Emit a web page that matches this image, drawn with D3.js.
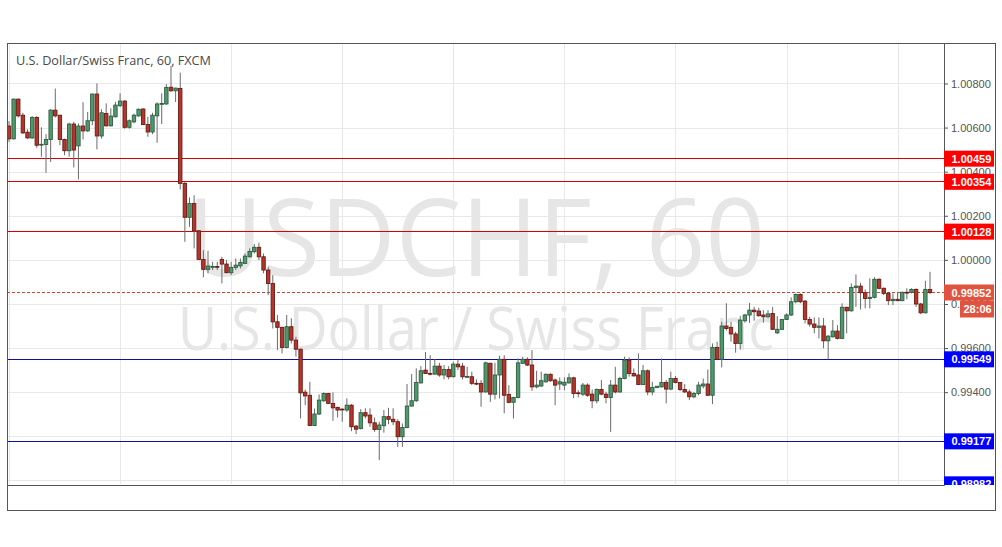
<!DOCTYPE html>
<html><head><meta charset="utf-8">
<script src="https://cdn.jsdelivr.net/npm/d3@7"></script>
<style>body{margin:0;background:#fff;} svg{display:block;}</style>
</head><body>
<svg id="chart" width="1002" height="547"></svg>
<script>
const title = "U.S. Dollar/Swiss Franc, 60, FXCM";
const watermark = ["USDCHF, 60", "U.S. Dollar / Swiss Franc"];
const dayLabels = ["15","16","19","20","21","22","23","26","27"];
const dayIndex = [0,24,48,72,96,120,144,168,192];
const gridTicks = [0.990,0.992,0.994,0.996,0.998,1.000,1.002,1.004,1.006,1.008];
const yTickLabels = [0.994,0.996,0.998,1.000,1.002,1.004,1.006,1.008];
const resistance = [1.00459,1.00354,1.00128];
const support = [0.99549,0.99177,0.98982];
const lastPrice = 0.99852;
const countdown = "28:06";
// hourly candles: [open, high, low, close]
const ohlc = [
[1.00607,1.00629,1.00535,1.00549],[1.00549,1.00732,1.00546,1.00729],[1.00729,1.00731,1.00646,1.00653],[1.00656,1.00667,1.00571,1.00576],
[1.00579,1.00592,1.00549,1.00553],[1.00553,1.00652,1.00549,1.00646],[1.00646,1.00652,1.00508,1.00520],[1.00522,1.00601,1.00468,1.00524],
[1.00523,1.00570,1.00395,1.00546],[1.00546,1.00683,1.00444,1.00679],[1.00679,1.00777,1.00646,1.00653],[1.00656,1.00658,1.00520,1.00546],
[1.00546,1.00550,1.00475,1.00495],[1.00495,1.00622,1.00468,1.00616],[1.00616,1.00626,1.00419,1.00498],[1.00517,1.00619,1.00365,1.00607],
[1.00607,1.00715,1.00546,1.00585],[1.00585,1.00671,1.00580,1.00631],[1.00631,1.00755,1.00611,1.00752],[1.00752,1.00800,1.00501,1.00562],
[1.00562,1.00683,1.00550,1.00667],[1.00664,1.00710,1.00604,1.00608],[1.00608,1.00687,1.00604,1.00652],[1.00649,1.00717,1.00646,1.00702],
[1.00699,1.00755,1.00694,1.00720],[1.00720,1.00725,1.00595,1.00601],[1.00601,1.00637,1.00595,1.00631],[1.00626,1.00664,1.00619,1.00656],
[1.00653,1.00687,1.00649,1.00683],[1.00684,1.00687,1.00611,1.00614],[1.00614,1.00649,1.00558,1.00580],[1.00580,1.00667,1.00570,1.00656],
[1.00653,1.00715,1.00531,1.00707],[1.00707,1.00755,1.00616,1.00709],[1.00707,1.00797,1.00704,1.00782],[1.00783,1.00879,1.00761,1.00767],
[1.00767,1.00781,1.00716,1.00779],[1.00777,1.00849,1.00320,1.00347],[1.00347,1.00354,1.00082,1.00193],[1.00193,1.00283,1.00150,1.00256],
[1.00256,1.00293,1.00052,1.00132],[1.00132,1.00135,0.99999,1.00002],[1.00002,1.00044,0.99921,0.99957],[0.99957,1.00041,0.99939,0.99972],
[0.99969,0.99991,0.99954,0.99970],[0.99970,0.99991,0.99954,0.99969],[1.00002,1.00014,0.99893,0.99981],[0.99981,0.99999,0.99939,0.99942],
[0.99942,0.99991,0.99931,0.99966],[0.99966,1.00006,0.99954,0.99976],[0.99973,1.00006,0.99961,0.99988],[0.99984,1.00029,0.99981,1.00017],
[1.00014,1.00052,1.00011,1.00038],[1.00037,1.00072,1.00029,1.00057],[1.00057,1.00078,0.99999,1.00014],[1.00014,1.00029,0.99939,0.99954],
[0.99954,0.99969,0.99840,0.99893],[0.99893,0.99931,0.99689,0.99719],[0.99719,0.99750,0.99591,0.99694],[0.99694,0.99697,0.99576,0.99603],
[0.99603,0.99750,0.99599,0.99697],[0.99697,0.99735,0.99621,0.99636],[0.99636,0.99651,0.99561,0.99595],[0.99595,0.99597,0.99281,0.99397],
[0.99400,0.99412,0.99341,0.99383],[0.99386,0.99447,0.99246,0.99249],[0.99249,0.99326,0.99246,0.99301],[0.99301,0.99390,0.99296,0.99364],
[0.99361,0.99399,0.99356,0.99394],[0.99394,0.99397,0.99346,0.99349],[0.99349,0.99399,0.99270,0.99329],[0.99331,0.99334,0.99285,0.99319],
[0.99323,0.99327,0.99266,0.99322],[0.99319,0.99372,0.99311,0.99341],[0.99341,0.99346,0.99223,0.99243],[0.99246,0.99251,0.99210,0.99232],
[0.99235,0.99323,0.99231,0.99307],[0.99307,0.99327,0.99281,0.99292],[0.99296,0.99327,0.99243,0.99261],[0.99261,0.99285,0.99220,0.99231],
[0.99231,0.99266,0.99092,0.99251],[0.99248,0.99319,0.99216,0.99289],[0.99289,0.99329,0.99255,0.99277],[0.99277,0.99327,0.99251,0.99266],
[0.99266,0.99277,0.99152,0.99198],[0.99198,0.99258,0.99152,0.99240],[0.99240,0.99437,0.99236,0.99337],[0.99337,0.99482,0.99334,0.99361],
[0.99361,0.99508,0.99356,0.99444],[0.99442,0.99518,0.99439,0.99497],[0.99500,0.99582,0.99482,0.99485],[0.99485,0.99568,0.99476,0.99484],
[0.99482,0.99550,0.99478,0.99518],[0.99518,0.99533,0.99470,0.99478],[0.99478,0.99523,0.99458,0.99503],[0.99503,0.99518,0.99458,0.99470],
[0.99470,0.99538,0.99467,0.99527],[0.99527,0.99548,0.99500,0.99515],[0.99518,0.99533,0.99458,0.99470],[0.99470,0.99515,0.99467,0.99471],
[0.99470,0.99493,0.99432,0.99440],[0.99440,0.99458,0.99432,0.99439],[0.99440,0.99455,0.99334,0.99401],[0.99401,0.99538,0.99398,0.99533],
[0.99531,0.99533,0.99356,0.99391],[0.99391,0.99533,0.99367,0.99478],[0.99478,0.99565,0.99372,0.99549],[0.99549,0.99568,0.99304,0.99386],
[0.99390,0.99432,0.99349,0.99354],[0.99354,0.99379,0.99281,0.99376],[0.99376,0.99553,0.99372,0.99533],[0.99531,0.99561,0.99527,0.99549],
[0.99549,0.99558,0.99518,0.99523],[0.99523,0.99591,0.99406,0.99424],[0.99424,0.99497,0.99417,0.99432],[0.99428,0.99493,0.99424,0.99452],
[0.99447,0.99485,0.99443,0.99481],[0.99481,0.99485,0.99447,0.99452],[0.99455,0.99462,0.99341,0.99432],[0.99437,0.99467,0.99409,0.99447],
[0.99432,0.99467,0.99409,0.99445],[0.99442,0.99485,0.99439,0.99465],[0.99465,0.99470,0.99372,0.99394],[0.99397,0.99409,0.99376,0.99396],
[0.99391,0.99442,0.99382,0.99432],[0.99432,0.99440,0.99379,0.99386],[0.99391,0.99412,0.99327,0.99361],[0.99361,0.99417,0.99349,0.99412],
[0.99412,0.99455,0.99386,0.99391],[0.99391,0.99402,0.99349,0.99376],[0.99376,0.99455,0.99220,0.99432],[0.99432,0.99515,0.99394,0.99401],
[0.99401,0.99470,0.99398,0.99462],[0.99462,0.99561,0.99458,0.99545],[0.99545,0.99558,0.99470,0.99485],[0.99485,0.99508,0.99470,0.99474],
[0.99478,0.99576,0.99432,0.99435],[0.99435,0.99523,0.99432,0.99497],[0.99497,0.99503,0.99386,0.99401],[0.99401,0.99447,0.99386,0.99421],
[0.99421,0.99427,0.99418,0.99427],[0.99424,0.99553,0.99421,0.99444],[0.99444,0.99455,0.99349,0.99414],[0.99414,0.99493,0.99409,0.99462],
[0.99462,0.99473,0.99440,0.99444],[0.99444,0.99447,0.99405,0.99412],[0.99412,0.99437,0.99397,0.99401],[0.99401,0.99412,0.99364,0.99379],
[0.99379,0.99401,0.99372,0.99394],[0.99394,0.99447,0.99386,0.99432],[0.99428,0.99462,0.99417,0.99437],[0.99437,0.99503,0.99382,0.99386],
[0.99386,0.99621,0.99346,0.99603],[0.99603,0.99629,0.99545,0.99549],[0.99549,0.99719,0.99512,0.99700],[0.99700,0.99803,0.99679,0.99689],
[0.99694,0.99719,0.99629,0.99664],[0.99664,0.99674,0.99579,0.99621],[0.99621,0.99745,0.99594,0.99727],[0.99724,0.99755,0.99715,0.99750],
[0.99750,0.99805,0.99715,0.99772],[0.99772,0.99787,0.99724,0.99765],[0.99768,0.99783,0.99742,0.99747],[0.99750,0.99772,0.99715,0.99742],
[0.99742,0.99772,0.99735,0.99755],[0.99757,0.99787,0.99682,0.99685],[0.99669,0.99745,0.99664,0.99685],[0.99685,0.99731,0.99682,0.99730],
[0.99730,0.99757,0.99727,0.99750],[0.99750,0.99830,0.99745,0.99810],[0.99810,0.99848,0.99803,0.99843],[0.99843,0.99848,0.99803,0.99810],
[0.99813,0.99818,0.99712,0.99730],[0.99730,0.99742,0.99697,0.99709],[0.99709,0.99739,0.99667,0.99694],[0.99694,0.99739,0.99644,0.99700],
[0.99700,0.99736,0.99599,0.99633],[0.99633,0.99659,0.99549,0.99654],[0.99651,0.99727,0.99648,0.99677],[0.99677,0.99704,0.99639,0.99644],
[0.99644,0.99803,0.99641,0.99785],[0.99785,0.99787,0.99667,0.99769],[0.99769,0.99893,0.99765,0.99875],[0.99875,0.99934,0.99787,0.99881],
[0.99881,0.99896,0.99775,0.99851],[0.99851,0.99866,0.99780,0.99825],[0.99825,0.99916,0.99780,0.99830],[0.99830,0.99921,0.99825,0.99912],
[0.99912,0.99916,0.99866,0.99871],[0.99871,0.99875,0.99840,0.99848],[0.99848,0.99855,0.99795,0.99815],[0.99815,0.99848,0.99795,0.99821],
[0.99821,0.99855,0.99813,0.99815],[0.99815,0.99855,0.99812,0.99853],[0.99853,0.99871,0.99821,0.99852],[0.99853,0.99871,0.99848,0.99866],
[0.99866,0.99871,0.99787,0.99800],[0.99800,0.99805,0.99754,0.99760],[0.99760,0.99905,0.99757,0.99866],[0.99866,0.99946,0.99845,0.99852]
];

const svg = d3.select("#chart");
const L = 7, T = 43, R = 944, B = 485, OR = 995, OB = 510;
const x = d3.scaleLinear().domain([0, ohlc.length - 1]).range([9, 930]);
const y = d3.scaleLinear().domain([0.98979, 1.00979]).range([B, 44]);
const labelFont = "'Liberation Sans', Arial, sans-serif";

svg.append("rect").attr("width", 1002).attr("height", 547).attr("fill", "#fff");
const defs = svg.append("defs");
defs.append("clipPath").attr("id", "plot").append("rect").attr("x", L).attr("y", T).attr("width", R - L).attr("height", B - T - 1);
defs.append("clipPath").attr("id", "scale").append("rect").attr("x", R).attr("y", T).attr("width", OR - R).attr("height", B - T);
defs.append("clipPath").attr("id", "xaxis").append("rect").attr("x", L + 0.5).attr("y", B).attr("width", R - L).attr("height", OB - B);

const plot = svg.append("g").attr("clip-path", "url(#plot)");

// grid
plot.append("g").selectAll("line").data(gridTicks).join("line")
  .attr("x1", L).attr("x2", R).attr("y1", d => Math.round(y(d)) + 0.5).attr("y2", d => Math.round(y(d)) + 0.5)
  .attr("stroke", "#e8e8e8");
plot.append("g").selectAll("line").data(dayIndex).join("line")
  .attr("y1", T).attr("y2", B).attr("x1", d => Math.round(x(d)) + 0.5).attr("x2", d => Math.round(x(d)) + 0.5)
  .attr("stroke", "#e8e8e8");

// watermark
plot.append("text").text(watermark[0]).attr("x", 476).attr("y", 276).attr("text-anchor", "middle")
  .attr("font-family", "'Open Sans', sans-serif").attr("font-size", 108).attr("fill", "#e6e6e6")
  .attr("textLength", 578).attr("lengthAdjust", "spacingAndGlyphs");
plot.append("text").text(watermark[1]).attr("x", 476).attr("y", 350).attr("text-anchor", "middle")
  .attr("font-family", "'Open Sans', sans-serif").attr("font-size", 60).attr("fill", "#e6e6e6")
  .attr("textLength", 596).attr("lengthAdjust", "spacingAndGlyphs");

// level lines (the lowest one sits on the axis line and is hidden by the clip)
const levels = resistance.map(v => ({v, line: "#d80000", box: "#ff0000"}))
  .concat(support.map(v => ({v, line: "#10109c", box: "#0000ff"})));
plot.append("g").selectAll("line").data(levels).join("line")
  .attr("x1", L).attr("x2", R).attr("y1", d => Math.floor(y(d.v)) + 0.5).attr("y2", d => Math.floor(y(d.v)) + 0.5)
  .attr("stroke", d => d.line).attr("stroke-width", 1).attr("shape-rendering", "crispEdges");

// last price dotted line
const priceColor = "#e0533f";
plot.append("line").attr("x1", L).attr("x2", R)
  .attr("y1", Math.floor(y(lastPrice)) + 0.5).attr("y2", Math.floor(y(lastPrice)) + 0.5)
  .attr("stroke", "#d8402c").attr("stroke-dasharray", "3,2").attr("shape-rendering", "crispEdges");

// candles
const bw = 3.4;
const cg = plot.append("g").selectAll("g").data(ohlc).join("g");
cg.append("line")
  .attr("x1", (d, i) => x(i)).attr("x2", (d, i) => x(i))
  .attr("y1", d => y(d[1])).attr("y2", d => y(d[2]))
  .attr("stroke", "#6a6a6a").attr("stroke-width", 1);
cg.append("rect")
  .attr("x", (d, i) => x(i) - bw / 2).attr("width", bw)
  .attr("y", d => y(Math.max(d[0], d[3])))
  .attr("height", d => Math.max(0.8, Math.abs(y(d[0]) - y(d[3]))))
  .attr("fill", d => d[3] >= d[0] ? "#4f9a6c" : "#b5352b")
  .attr("stroke", d => d[3] >= d[0] ? "#2f5d42" : "#6a1b14")
  .attr("stroke-width", 0.9);

// title
svg.append("text").text(title).attr("x", 16).attr("y", 65)
  .attr("font-family", "'Open Sans', sans-serif").attr("font-size", 13).attr("fill", "#4a4a4a")
  .attr("textLength", 195).attr("lengthAdjust", "spacingAndGlyphs");

// y axis
const yAxis = svg.append("g").attr("transform", `translate(${R},0)`)
  .call(d3.axisRight(y).tickValues(yTickLabels).tickFormat(d3.format(".5f")).tickSize(4).tickPadding(3));
yAxis.select(".domain").remove();
yAxis.selectAll("line").attr("stroke", "#555");
yAxis.selectAll("text").attr("fill", "#555").attr("font-family", labelFont).attr("font-size", 11);

// x axis
const xAxis = svg.append("g").attr("transform", `translate(0,${B})`).attr("clip-path", "url(#xaxis)")
  .call(d3.axisBottom(x).tickValues(dayIndex).tickFormat((d, i) => dayLabels[i]).tickSize(4).tickPadding(6));
xAxis.select(".domain").remove();
xAxis.selectAll("line").attr("stroke", "#555");
xAxis.selectAll("text").attr("fill", "#555").attr("font-family", labelFont).attr("font-size", 11);

// frame
svg.append("rect").attr("x", L + 0.5).attr("y", T + 0.5).attr("width", OR - L).attr("height", OB - T)
  .attr("fill", "none").attr("stroke", "#555");
svg.append("line").attr("x1", R + 0.5).attr("x2", R + 0.5).attr("y1", T).attr("y2", B + 0.5).attr("stroke", "#555");
svg.append("line").attr("x1", L).attr("x2", R + 0.5).attr("y1", B + 0.5).attr("y2", B + 0.5).attr("stroke", "#555");

// level labels
const lab = svg.append("g").attr("clip-path", "url(#scale)");
const lg = lab.selectAll("g").data(levels).join("g");
lg.append("rect").attr("x", R).attr("y", d => y(d.v) - 8).attr("width", 50).attr("height", 16).attr("fill", d => d.box);
lg.append("text").text(d => d3.format(".5f")(d.v)).attr("x", R + 7.5).attr("y", d => y(d.v) + 4)
  .attr("fill", "#fff").attr("font-weight", "bold").attr("font-family", labelFont).attr("font-size", 11);

const py = y(lastPrice);
lab.append("rect").attr("x", R).attr("y", py - 8).attr("width", 50).attr("height", 16).attr("fill", priceColor);
lab.append("text").text(d3.format(".5f")(lastPrice)).attr("x", R + 7.5).attr("y", py + 4)
  .attr("fill", "#fff").attr("font-weight", "bold").attr("font-family", labelFont).attr("font-size", 11);
lab.append("rect").attr("x", 960).attr("y", py + 8).attr("width", 34).attr("height", 17).attr("fill", priceColor);
lab.append("text").text(countdown).attr("x", 963.5).attr("y", py + 20.5)
  .attr("fill", "#fff").attr("font-weight", "bold").attr("font-family", labelFont).attr("font-size", 11);
</script>
</body></html>
